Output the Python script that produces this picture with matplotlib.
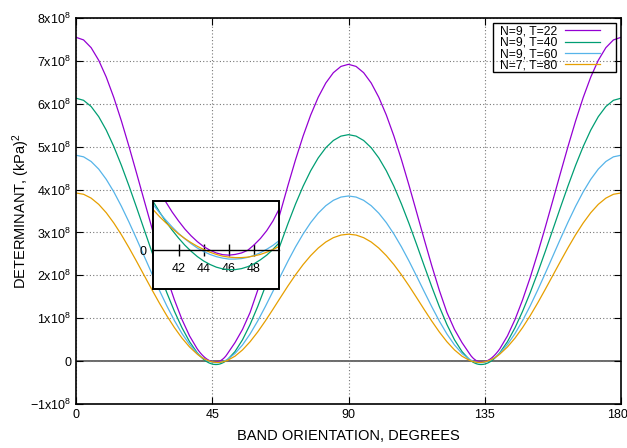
import numpy as np
import matplotlib
matplotlib.use("Agg")
import matplotlib.pyplot as plt
from matplotlib.patches import Rectangle
from matplotlib.transforms import ScaledTranslation

plt.rcParams['font.family'] = ['Liberation Sans', 'DejaVu Sans']
plt.rcParams['mathtext.default'] = 'regular'

# band orientation (degrees), finer steps around the two minima
angles = np.concatenate([np.arange(0, 40, 2.5), np.arange(40, 50.5, 0.5), np.arange(52.5, 130, 2.5),
                         np.arange(130, 140.5, 0.5), np.arange(142.5, 180.1, 2.5)])

# determinant, in units of 1e5 (kPa)^2
det_t22 = [7550, 7489, 7308, 7014, 6621, 6143, 5598, 5005, 4383, 3750, 3123, 2518, 1948, 1429, 971, 588,
           290, 241, 197, 156, 120, 87, 59, 35, 15, 0, -11, -18, -20, -17, -11, 0, 22, 48, 80, 120, 170,
           430, 740, 1135, 1650, 2225, 2839, 3470, 4095, 4694, 5246, 5736, 6152, 6484, 6725, 6871, 6920,
           6871, 6725, 6484, 6152, 5736, 5246, 4694, 4095, 3470, 2839, 2225, 1650, 1135, 740, 430,
           170, 120, 80, 48, 22, 0, -11, -17, -20, -18, -11, 0, 15, 35, 59, 87, 120, 156, 197, 241, 290,
           588, 971, 1429, 1948, 2518, 3123, 3750, 4383, 5005, 5598, 6143, 6621, 7014, 7308, 7489, 7550]
det_t40 = [6130, 6081, 5936, 5700, 5385, 5001, 4563, 4085, 3583, 3070, 2559, 2064, 1594, 1162, 778, 453,
           198, 156, 117, 82, 50, 21, -4, -26, -44, -58, -69, -76, -79, -79, -75, -67, -55, -39, -20, 4, 31,
           221, 498, 853, 1270, 1734, 2223, 2720, 3205, 3661, 4076, 4437, 4738, 4975, 5144, 5246, 5280,
           5246, 5144, 4975, 4738, 4437, 4076, 3661, 3205, 2720, 2223, 1734, 1270, 853, 498, 221,
           31, 4, -20, -39, -55, -67, -75, -79, -79, -76, -69, -58, -44, -26, -4, 21, 50, 82, 117, 156, 198,
           453, 778, 1162, 1594, 2064, 2559, 3070, 3583, 4085, 4563, 5001, 5385, 5700, 5936, 6081, 6130]
det_t60 = [4800, 4763, 4654, 4477, 4237, 3945, 3609, 3241, 2851, 2450, 2049, 1658, 1287, 946, 643, 387,
           186, 153, 123, 95, 69, 47, 27, 9, -5, -17, -26, -32, -36, -36, -34, -29, -21, -10, 4, 20, 40,
           177, 377, 633, 934, 1268, 1621, 1980, 2331, 2662, 2963, 3228, 3449, 3623, 3749, 3825, 3850,
           3825, 3749, 3623, 3449, 3228, 2963, 2662, 2331, 1980, 1621, 1268, 934, 633, 377, 177,
           40, 20, 4, -10, -21, -29, -34, -36, -36, -32, -26, -17, -5, 9, 27, 47, 69, 95, 123, 153, 186,
           387, 643, 946, 1287, 1658, 2049, 2450, 2851, 3241, 3609, 3945, 4237, 4477, 4654, 4763, 4800]
det_t80 = [3920, 3890, 3800, 3655, 3459, 3219, 2945, 2644, 2326, 2000, 1675, 1358, 1058, 782, 537, 330,
           165, 137, 112, 89, 67, 48, 31, 16, 3, -8, -17, -24, -28, -30, -30, -28, -23, -17, -8, 3, 16,
           114, 261, 452, 679, 933, 1203, 1480, 1753, 2012, 2250, 2459, 2636, 2777, 2878, 2939, 2960,
           2939, 2878, 2777, 2636, 2459, 2250, 2012, 1753, 1480, 1203, 933, 679, 452, 261, 114,
           16, 3, -8, -17, -23, -28, -30, -30, -28, -24, -17, -8, 3, 16, 31, 48, 67, 89, 112, 137, 165,
           330, 537, 782, 1058, 1358, 1675, 2000, 2326, 2644, 2945, 3219, 3459, 3655, 3800, 3890, 3920]

labels = ['N=9, T=22', 'N=9, T=40', 'N=9, T=60', 'N=7, T=80']
colors = ['#9400d3', '#009e73', '#56b4e9', '#e69f00']
# plot in units of 1e8 so the tick labels can read "Nx10^8"
series = [np.array(s) / 1000 for s in (det_t22, det_t40, det_t60, det_t80)]

fig = plt.figure(figsize=(6.27, 4.48), dpi=100)
ax = fig.add_axes([76 / 627, 1 - 404 / 448, 545 / 627, 386 / 448])
for y, c, lab in zip(series, colors, labels):
    ax.plot(angles, y, color=c, lw=0.9, label=lab)
ax.axhline(0, color='#505050', lw=1.2, zorder=1)
ax.set_xlim(0, 180)
ax.set_ylim(-1, 8)
ax.set_xticks([0, 45, 90, 135, 180])
yt = list(range(-1, 9))
ax.set_yticks(yt)
ax.set_yticklabels(['0' if v == 0 else f'${v}x10^{{8}}$' for v in yt])
ax.grid(True, linestyle=(0, (1, 2)), color='#777777', lw=0.8)
ax.tick_params(direction='in', length=5, width=0.8, top=True, right=True, labelsize=9)
for s in ax.spines.values():
    s.set_linewidth(1.2)
last = ax.get_xticklabels()[-1]
last.set_transform(last.get_transform() + ScaledTranslation(-4 / 100, 0, fig.dpi_scale_trans))
ax.set_xlabel('BAND ORIENTATION, DEGREES', fontsize=10.5, labelpad=6)
ax.set_ylabel('DETERMINANT, (kPa)$^2$', fontsize=10.5)
ax.yaxis.set_label_coords(-0.08, 0.5)

# gnuplot-like key: text then sample, boxed
leg = ax.legend(loc='upper right', bbox_to_anchor=(600 / 627, 1 - 25.5 / 448), bbox_transform=fig.transFigure,
                fontsize=8.7, markerfirst=False, frameon=False, labelspacing=-0.05, handlelength=2.9,
                borderpad=0, borderaxespad=0, handletextpad=0.6)
fig.patches.append(Rectangle((493 / 627, 1 - 72 / 448), 123 / 627, 49 / 448, transform=fig.transFigure,
                             fill=False, edgecolor='black', lw=1.0))

# inset zoomed on the first minimum
ins = fig.add_axes([153.3 / 627, 1 - 288.7 / 448, 126 / 627, 87.4 / 448])
for y, c in zip(series, colors):
    ins.plot(angles, y, color=c, lw=0.9)
ins.set_xlim(40, 50)
ins.set_ylim(-0.157, 0.2)
for s in ['top', 'left', 'right']:
    ins.spines[s].set_visible(False)
ins.spines['bottom'].set_position(('data', 0))
ins.spines['bottom'].set_linewidth(1.0)
ins.set_xticks([42, 44, 46, 48])
ins.tick_params(axis='x', direction='inout', length=8, width=1, labelsize=9, pad=5)
ins.set_yticks([0])
ins.set_yticklabels(['0'])
ins.tick_params(axis='y', length=0, labelsize=9, pad=5)
ins.add_patch(Rectangle((0, 0), 1, 1, transform=ins.transAxes, fill=False, lw=1.4,
                        edgecolor='black', clip_on=False, zorder=5))

fig.savefig('out.png', dpi=100)
